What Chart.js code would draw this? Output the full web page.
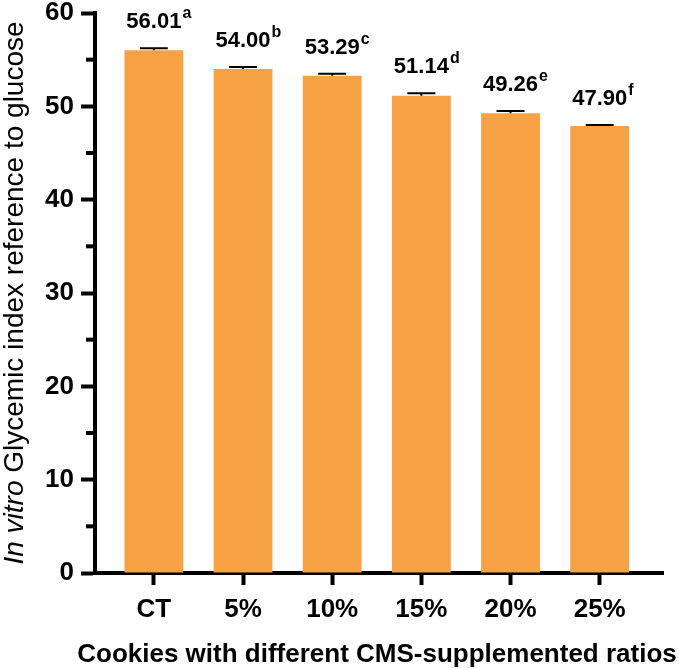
<!DOCTYPE html>
<html><head><meta charset="utf-8">
<script src="https://cdn.jsdelivr.net/npm/chart.js@4.4.0/dist/chart.umd.min.js"></script>
<style>html,body{margin:0;background:#fff}</style>
</head><body>
<canvas id="gi" width="679" height="668"></canvas>
<script>
const groups=['CT','5%','10%','15%','20%','25%'];
const giValues=[56.01,54.00,53.29,51.14,49.26,47.90];
const giErrors=[0.22,0.22,0.20,0.27,0.25,0.10];
const sigLetters=['a','b','c','d','e','f'];
const minorTicks=[5,15,25,35,45,55];
const xTitle='Cookies with different CMS-supplemented ratios';

const FONT='"Liberation Sans", Arial, Helvetica, sans-serif';
const barColor='#F7A145';

// error bars + value labels with superscript letters
const errPlugin={id:'err',afterDatasetsDraw(c){
  const ctx=c.ctx,ys=c.scales.y,meta=c.getDatasetMeta(0);
  ctx.save();
  meta.data.forEach((b,i)=>{
    const top=ys.getPixelForValue(giValues[i]+giErrors[i]);
    ctx.strokeStyle='#000';ctx.lineWidth=2;
    ctx.beginPath();ctx.moveTo(b.x,b.y);ctx.lineTo(b.x,top);
    ctx.moveTo(b.x-14,top);ctx.lineTo(b.x+14,top);ctx.stroke();
    const num=giValues[i].toFixed(2);
    ctx.fillStyle='#000';ctx.textBaseline='alphabetic';ctx.textAlign='left';
    ctx.font='bold 22px '+FONT;
    const w1=ctx.measureText(num).width;
    const base=top-20,x0=b.x-w1/2;
    ctx.fillText(num,x0,base);
    ctx.font='bold 16px '+FONT;
    ctx.fillText(sigLetters[i],x0+w1+1,base-10);
  });
  ctx.restore();
}};

// minor y ticks, axis titles (y title has an italic part)
const axisPlugin={id:'axisx',afterDraw(c){
  const ctx=c.ctx,ys=c.scales.y,a=c.chartArea;
  ctx.save();
  ctx.strokeStyle='#000';ctx.lineWidth=4;
  minorTicks.forEach(v=>{
    const y=ys.getPixelForValue(v);
    ctx.beginPath();ctx.moveTo(a.left-9,y);ctx.lineTo(a.left,y);ctx.stroke();
  });
  ctx.fillStyle='#000';ctx.textBaseline='alphabetic';
  ctx.font='bold 26px '+FONT;ctx.textAlign='center';
  ctx.fillText(xTitle,(a.left+a.right)/2-2,662);
  ctx.textAlign='left';
  const p1='In vitro',p2=' Glycemic index reference to glucose';
  ctx.translate(23,(a.top+a.bottom)/2);
  ctx.rotate(-Math.PI/2);
  ctx.font='italic 28px '+FONT;const w1=ctx.measureText(p1).width;
  ctx.font='28px '+FONT;const w2=ctx.measureText(p2).width;
  const x0=-(w1+w2)/2;
  ctx.font='italic 28px '+FONT;ctx.fillText(p1,x0,0);
  ctx.font='28px '+FONT;ctx.fillText(p2,x0+w1,0);
  ctx.restore();
}};

new Chart(document.getElementById('gi'),{
  type:'bar',
  data:{
    datasets:[{
      data:giValues.map((v,i)=>({x:i,y:v})),
      backgroundColor:barColor,
      borderWidth:0,
      barPercentage:0.66,
      categoryPercentage:1
    }]
  },
  options:{
    responsive:false,
    animation:false,
    devicePixelRatio:1,
    layout:{padding:{left:0,top:13,right:16,bottom:0}},
    plugins:{legend:{display:false},tooltip:{enabled:false}},
    scales:{
      x:{
        type:'linear',min:-0.66,max:5.71,offset:false,
        afterBuildTicks:s=>{s.ticks=groups.map((g,i)=>({value:i}));},
        afterFit:s=>{s.height=95;},
        ticks:{color:'#000',padding:9,font:{family:FONT,size:26,weight:'bold'},callback:v=>groups[v]},
        grid:{offset:false,drawOnChartArea:false,tickLength:12,tickWidth:4,tickColor:'#000'},
        border:{display:true,color:'#000',width:4}
      },
      y:{
        min:0,max:60,
        ticks:{stepSize:5,color:'#000',padding:7,font:{family:FONT,size:26,weight:'bold',lineHeight:1},
          callback:v=>v%10===0?v:''},
        afterFit:s=>{s.width=95;s.paddingTop=0;s.paddingBottom=0;},
        grid:{drawOnChartArea:false,tickLength:14,tickWidth:4,
          tickColor:c=>(c.tick&&c.tick.value%10===0)?'#000':'rgba(0,0,0,0)'},
        border:{display:true,color:'#000',width:4}
      }
    }
  },
  plugins:[errPlugin,axisPlugin]
});
</script>
</body></html>
